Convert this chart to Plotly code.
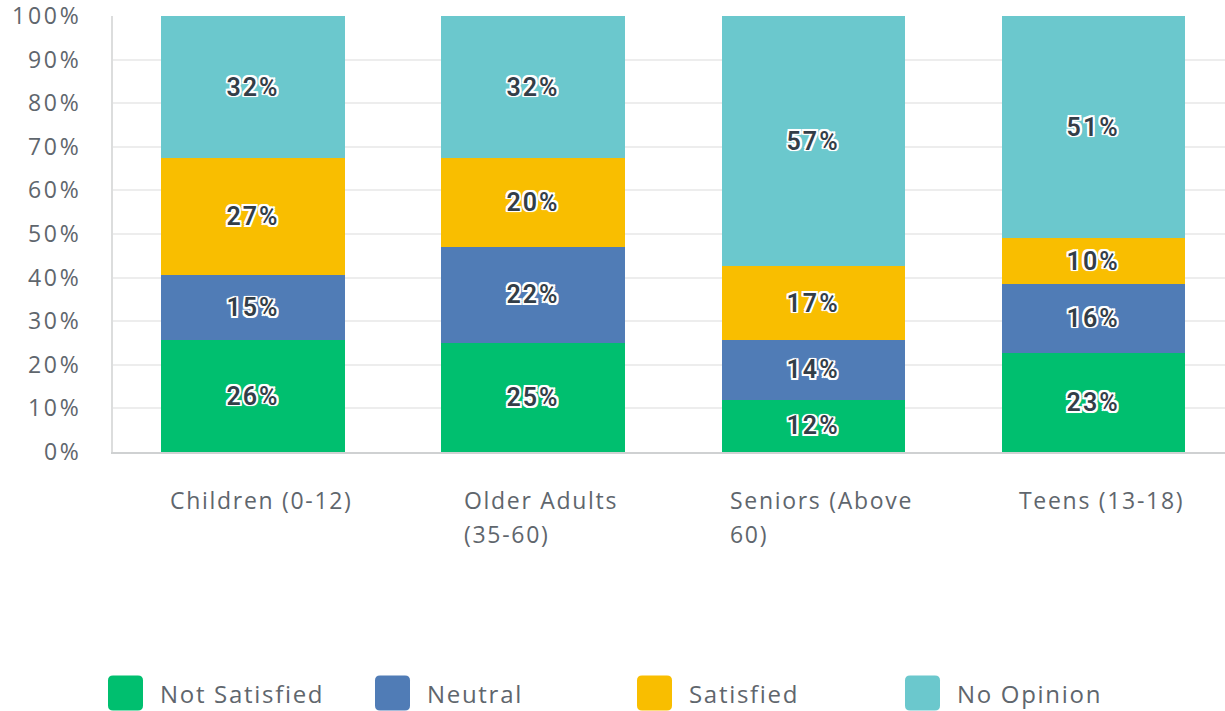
import plotly.graph_objects as go
import textwrap

categories = ["Children (0-12)", "Older Adults (35-60)", "Seniors (Above 60)", "Teens (13-18)"]
series_names = ["Not Satisfied", "Neutral", "Satisfied", "No Opinion"]
not_satisfied = [25.6, 25.1, 12.0, 22.8]
neutral = [14.9, 22.0, 13.7, 15.8]
satisfied = [27.0, 20.4, 16.9, 10.4]
no_opinion = [32.4, 32.4, 57.4, 51.0]
y_ticks = [0, 10, 20, 30, 40, 50, 60, 70, 80, 90, 100]

series_values = [not_satisfied, neutral, satisfied, no_opinion]
colors = ["#00bf6f", "#507cb6", "#f9be00", "#6bc8cd"]

FONT = "Open Sans"
GRAY = "#5f666d"
d = "1.8px"
halo = (f"-{d} -{d} 0 #fff, {d} -{d} 0 #fff, -{d} {d} 0 #fff, "
        f"{d} {d} 0 #fff, 0 -{d} 0 #fff, 0 {d} 0 #fff, -{d} 0 0 #fff, "
        f"{d} 0 0 #fff, 0 0 3px #fff")

fig = go.Figure()
for name, vals, col in zip(series_names, series_values, colors):
    fig.add_trace(go.Bar(
        x=categories, y=vals, name=name,
        marker=dict(color=col, line=dict(width=0)),
        width=0.654,
        texttemplate='<span style="letter-spacing:2px">%{y:.0f}%</span>',
        textposition="inside", insidetextanchor="middle", textangle=0,
        constraintext="none",
        textfont=dict(family="Roboto", size=25, color="#333e48", shadow=halo, weight=600),
        hoverinfo="skip",
    ))

# plot geometry in pixels
L, T, W, H = 113, 16, 1112, 436
B = T + H

# category labels (left-aligned block, centred under bars)
for c in categories:
    lines = textwrap.wrap(c, 15)
    txt = "<br>".join(f'<span style="font-size:23px;letter-spacing:1.7px">{ln}</span>' for ln in lines)
    fig.add_annotation(x=c, xref="x", y=(B - 482) / H, yref="paper",
                       text=txt, showarrow=False, xanchor="center", yanchor="top",
                       align="left", xshift=8,
                       font=dict(family=FONT, size=26, color=GRAY))

# custom legend
leg_sq_left = [108, 375, 637, 905]
leg_cy = 693
sq = 35
for name, col, sx in zip(series_names, colors, leg_sq_left):
    x0, x1 = sx - L, sx + sq - L
    y0, y1 = B - (leg_cy + sq / 2), B - (leg_cy - sq / 2)
    r = 5
    path = (f"M {x0+r},{y0} L {x1-r},{y0} Q {x1},{y0} {x1},{y0+r} L {x1},{y1-r} "
            f"Q {x1},{y1} {x1-r},{y1} L {x0+r},{y1} Q {x0},{y1} {x0},{y1-r} "
            f"L {x0},{y0+r} Q {x0},{y0} {x0+r},{y0} Z")
    fig.add_shape(type="path", path=path, xref="paper", yref="paper",
                  xsizemode="pixel", ysizemode="pixel", xanchor=0, yanchor=0,
                  fillcolor=col, line=dict(width=0))
    fig.add_annotation(x=(sx + 50 - L) / W, xref="paper", y=(B - leg_cy) / H, yref="paper",
                       text=f'<span style="letter-spacing:1.7px">{name}</span>',
                       showarrow=False, xanchor="left", yanchor="middle",
                       font=dict(family=FONT, size=24, color=GRAY))

fig.update_layout(
    barmode="stack", bargap=0.35,
    width=1225, height=711,
    margin=dict(l=L, r=0, t=T, b=711 - B, pad=0),
    paper_bgcolor="white", plot_bgcolor="white",
    showlegend=False,
    font=dict(family=FONT, color=GRAY),
    xaxis=dict(range=[-0.5, 3.471], showticklabels=False, showgrid=False,
               showline=True, linecolor="#cfd1d2", linewidth=2, ticks="",
               zeroline=False, fixedrange=True, automargin=False),
    yaxis=dict(range=[0, 100], tickvals=y_ticks,
               ticktext=[f'<span style="letter-spacing:2.8px">{v}%</span>' for v in y_ticks],
               showgrid=True, gridcolor="#ededed", gridwidth=1.5,
               showline=True, linecolor="#dcdddd", linewidth=1.5,
               zeroline=False, ticks="", ticklabelstandoff=25,
               ticklabeloverflow="allow", automargin=False,
               tickfont=dict(family=FONT, size=23, color=GRAY), fixedrange=True),
)

fig.write_html("out.html", config={"displayModeBar": False},
               post_script="document.body.style.margin='0';document.body.style.overflow='hidden';")
